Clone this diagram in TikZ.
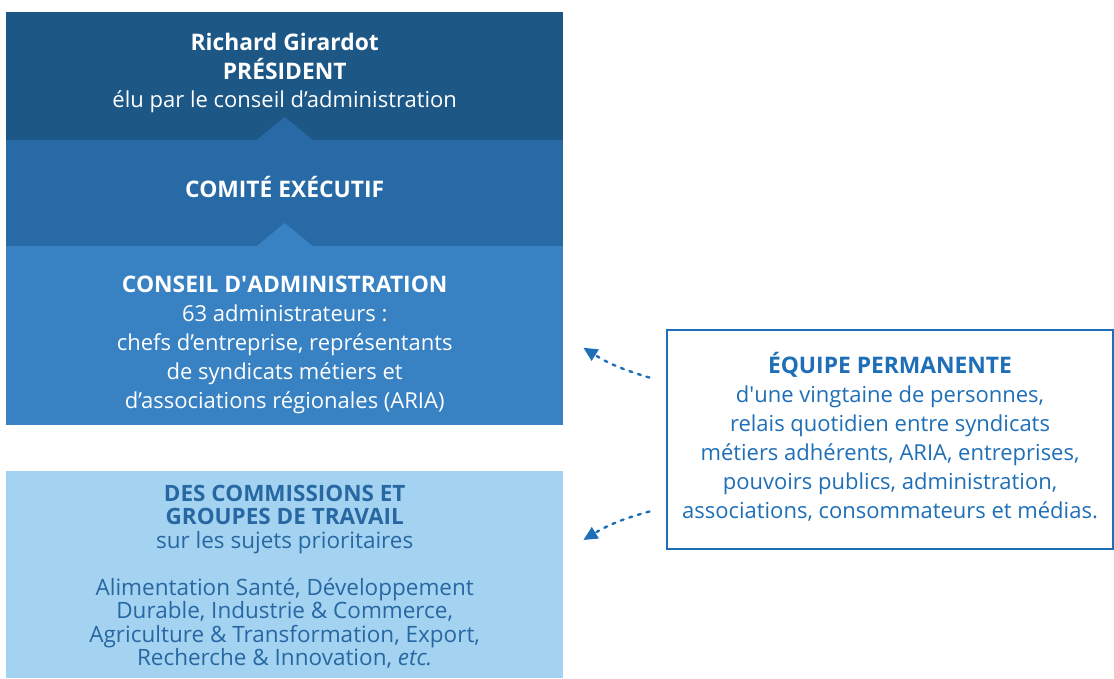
\documentclass[tikz,border=0pt]{standalone}
\usepackage{fontspec}
\setmainfont{Open Sans}
\usetikzlibrary{arrows.meta,positioning}

\definecolor{presblue}{HTML}{1C5786}
\definecolor{comblue}{HTML}{276AA5}
\definecolor{cablue}{HTML}{3881C3}
\definecolor{commisblue}{HTML}{A4D3F2}
\definecolor{commistext}{HTML}{2767A2}
\definecolor{equipeblue}{HTML}{1E6FB7}

\newcommand{\hd}[1]{{\fontsize{22.8}{29}\selectfont\bfseries #1}}

\begin{document}
\begin{tikzpicture}[x=1pt, y=-1pt,
  block/.style={fill=#1, minimum width=557pt, inner sep=0pt, anchor=north west},
  whitetext/.style={text=white, align=center, font=\fontsize{22}{28.5}\selectfont},
  commistxt/.style={text=commistext, align=center, font=\fontsize{22.5}{23.5}\selectfont},
  link/.style={equipeblue, line width=2.4pt, line cap=round, dash pattern=on 3pt off 6pt,
    -{Triangle[length=14pt,width=13pt]}}]

\useasboundingbox (0,0) rectangle (1114,678);

% Blocks
\node[block=presblue, minimum height=128pt] (pres) at (6,12) {};
\node[block=comblue, minimum height=106pt] (comex) at (6,140) {};
\node[block=cablue, minimum height=179pt] (conseil) at (6,246) {};
\node[block=commisblue, minimum height=207pt] (commis) at (6,471) {};
\node[draw=equipeblue, line width=1.2pt, fill=white, minimum width=446pt, minimum height=219pt] (equipe) at (890,439.5) {};

% Notches
\fill[comblue] ([xshift=-28pt]comex.north) -- ([yshift=23pt]comex.north) -- ([xshift=28pt]comex.north) -- cycle;
\fill[cablue] ([xshift=-28pt]conseil.north) -- ([yshift=23pt]conseil.north) -- ([xshift=28pt]conseil.north) -- cycle;

% Labels
\node[whitetext] (presTxt) at ([yshift=3pt]pres.center)
  {\hd{Richard Girardot}\\ \hd{PRÉSIDENT}\\ élu par le conseil d’administration};
\node[whitetext] (comexTxt) at ([yshift=6pt]comex.center) {\hd{COMITÉ EXÉCUTIF}};
\node[whitetext, font=\fontsize{22}{29}\selectfont] (conseilTxt) at ([yshift=-9pt]conseil.center)
  {\hd{CONSEIL D\textquotesingle ADMINISTRATION}\\ 63 administrateurs :\\ chefs d’entreprise, représentants\\
   de syndicats métiers et\\ d’associations régionales (ARIA)};
\node[commistxt] (commisTxt) at ([yshift=-2pt]commis.center)
  {\textbf{DES COMMISSIONS ET}\\ \textbf{GROUPES DE TRAVAIL}\\ sur les sujets prioritaires\\[23.5pt]
   Alimentation Santé, Développement\\ Durable, Industrie \& Commerce,\\
   Agriculture \& Transformation, Export,\\ Recherche \& Innovation, \textit{etc.}};
\node[text=equipeblue, align=center, font=\fontsize{22}{29}\selectfont] (equipeTxt) at ([yshift=3pt]equipe.center)
  {\hd{ÉQUIPE PERMANENTE}\\ d\textquotesingle une vingtaine de personnes,\\ relais quotidien entre syndicats\\
   métiers adhérents, ARIA, entreprises,\\ pouvoirs publics, administration,\\
   associations, consommateurs et médias.};

% Arrows
\draw[link] ([xshift=-17pt,yshift=62pt]equipe.west) to[bend left=8] ([xshift=20pt,yshift=-12pt]conseil.east);
\draw[link] ([xshift=-17pt,yshift=-72pt]equipe.west) to[bend right=8] ([xshift=20pt,yshift=-69pt]commis.north east);

\end{tikzpicture}
\end{document}
